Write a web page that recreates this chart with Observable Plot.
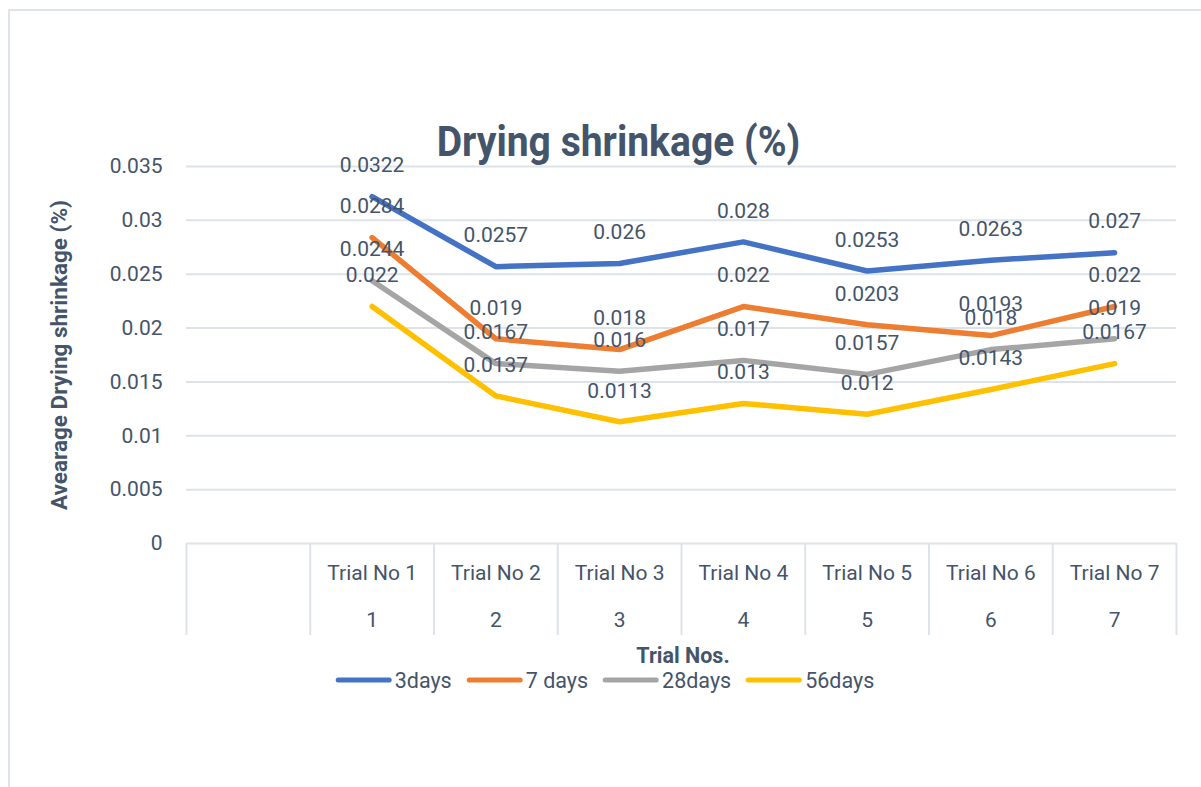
<!DOCTYPE html>
<html>
<head>
<meta charset="utf-8">
<script src="https://cdn.jsdelivr.net/npm/d3@7"></script>
<script src="https://cdn.jsdelivr.net/npm/@observablehq/plot@0.6"></script>
<style>
  html, body { margin: 0; padding: 0; background: #fff; }
  #wrap { position: relative; width: 1201px; height: 787px; overflow: hidden; font-family: Roboto, "Noto Sans", sans-serif; color: #44546A; }
  #frame { position: absolute; left: 8px; top: 9px; right: -10px; bottom: -10px; border-top: 2px solid #DEE3EA; border-left: 2px solid #DEE3EA; }
  #chart { position: absolute; left: 0; top: 0; }
  #title { position: absolute; left: 0; width: 1236px; top: 117px; text-align: center; font-weight: 700; font-size: 42px; white-space: nowrap; }
  #title span { display: inline-block; transform: scaleX(0.93); transform-origin: center; }
  #ylabel { position: absolute; left: 59px; top: 355px; transform: translate(-50%, -50%) rotate(-90deg); font-weight: 700; font-size: 22.5px; white-space: nowrap; }
  #xlabel { position: absolute; left: 683px; top: 655px; transform: translate(-50%, -50%); font-weight: 700; font-size: 21.5px; white-space: nowrap; }
  #legend { position: absolute; left: 605px; top: 680px; transform: translate(-50%, -50%); display: flex; align-items: center; font-size: 21.5px; white-space: nowrap; }
  .item { display: flex; align-items: center; margin-right: 15px; }
  .item:last-child { margin-right: 0; }
  .sw { width: 56px; height: 5px; border-radius: 3px; margin-right: 3px; }
</style>
</head>
<body>
<div id="wrap">
  <div id="frame"></div>
  <div id="chart"></div>
  <div id="title"><span>Drying shrinkage (%)</span></div>
  <div id="ylabel">Avearage Drying shrinkage (%)</div>
  <div id="xlabel">Trial Nos.</div>
  <div id="legend"></div>
</div>
<script>
// ---- data ----
const slots = ["", "Trial No 1", "Trial No 2", "Trial No 3", "Trial No 4", "Trial No 5", "Trial No 6", "Trial No 7"];
const subLabels = ["", "1", "2", "3", "4", "5", "6", "7"];
const trials = [1, 2, 3, 4, 5, 6, 7];
const seriesNames = ["3days", "7 days", "28days", "56days"];
const seriesColors = ["#4472C4", "#ED7D31", "#A5A5A5", "#FFC000"];
const days3  = [0.0322, 0.0257, 0.026, 0.028, 0.0253, 0.0263, 0.027];
const days7  = [0.0284, 0.019, 0.018, 0.022, 0.0203, 0.0193, 0.022];
const days28 = [0.0244, 0.0167, 0.016, 0.017, 0.0157, 0.018, 0.019];
const days56 = [0.022, 0.0137, 0.0113, 0.013, 0.012, 0.0143, 0.0167];
const yTicks = [0, 0.005, 0.01, 0.015, 0.02, 0.025, 0.03, 0.035];

const seriesValues = [days3, days7, days28, days56];
const rows = [];
seriesNames.forEach((name, s) => {
  trials.forEach((t, i) => rows.push({series: name, slot: t, value: seriesValues[s][i]}));
});
const center = d => d.slot + 0.5;
const slotIdx = d3.range(slots.length);
const edges = d3.range(slots.length + 1);

const textColor = "#44546A";
const gridColor = "#DEE3EA";
const fmt = v => String(+v.toFixed(4));

const chart = Plot.plot({
  width: 1201,
  height: 787,
  marginLeft: 186,
  marginRight: 25,
  marginTop: 166,
  marginBottom: 244,
  style: {fontFamily: "Roboto, 'Noto Sans', sans-serif", fontSize: "21px", color: textColor, background: "transparent"},
  x: {type: "linear", domain: [0, slots.length]},
  y: {domain: [0, 0.035]},
  color: {domain: seriesNames, range: seriesColors},
  marks: [
    Plot.gridY(yTicks, {stroke: gridColor, strokeOpacity: 1, strokeWidth: 2}),
    Plot.axisY(yTicks, {tickSize: 0, tickPadding: 24, tickFormat: fmt, label: null, fontSize: 21, fill: textColor}),
    Plot.axisX(edges, {tickSize: 92, tickFormat: () => "", stroke: gridColor, strokeWidth: 2, label: null}),
    Plot.axisX(slotIdx.map(i => i + 0.5), {tickSize: 0, tickPadding: 22, tickFormat: v => slots[Math.floor(v)], label: null, fontSize: 21, fill: textColor}),
    Plot.axisX(slotIdx.map(i => i + 0.5), {tickSize: 0, tickPadding: 69, tickFormat: v => subLabels[Math.floor(v)], label: null, fontSize: 21, fill: textColor}),
    Plot.line(rows, {x: center, y: "value", z: "series", stroke: "series", strokeWidth: 5.5, strokeLinecap: "round", strokeLinejoin: "round"}),
    Plot.text(rows, {x: center, y: "value", text: d => fmt(d.value), dy: -31, fontSize: 21, fill: textColor})
  ]
});
document.getElementById("chart").appendChild(chart);

const legend = document.getElementById("legend");
seriesNames.forEach((name, i) => {
  const item = document.createElement("div");
  item.className = "item";
  const sw = document.createElement("div");
  sw.className = "sw";
  sw.style.background = seriesColors[i];
  const lab = document.createElement("span");
  lab.textContent = name;
  item.appendChild(sw);
  item.appendChild(lab);
  legend.appendChild(item);
});
</script>
</body>
</html>
